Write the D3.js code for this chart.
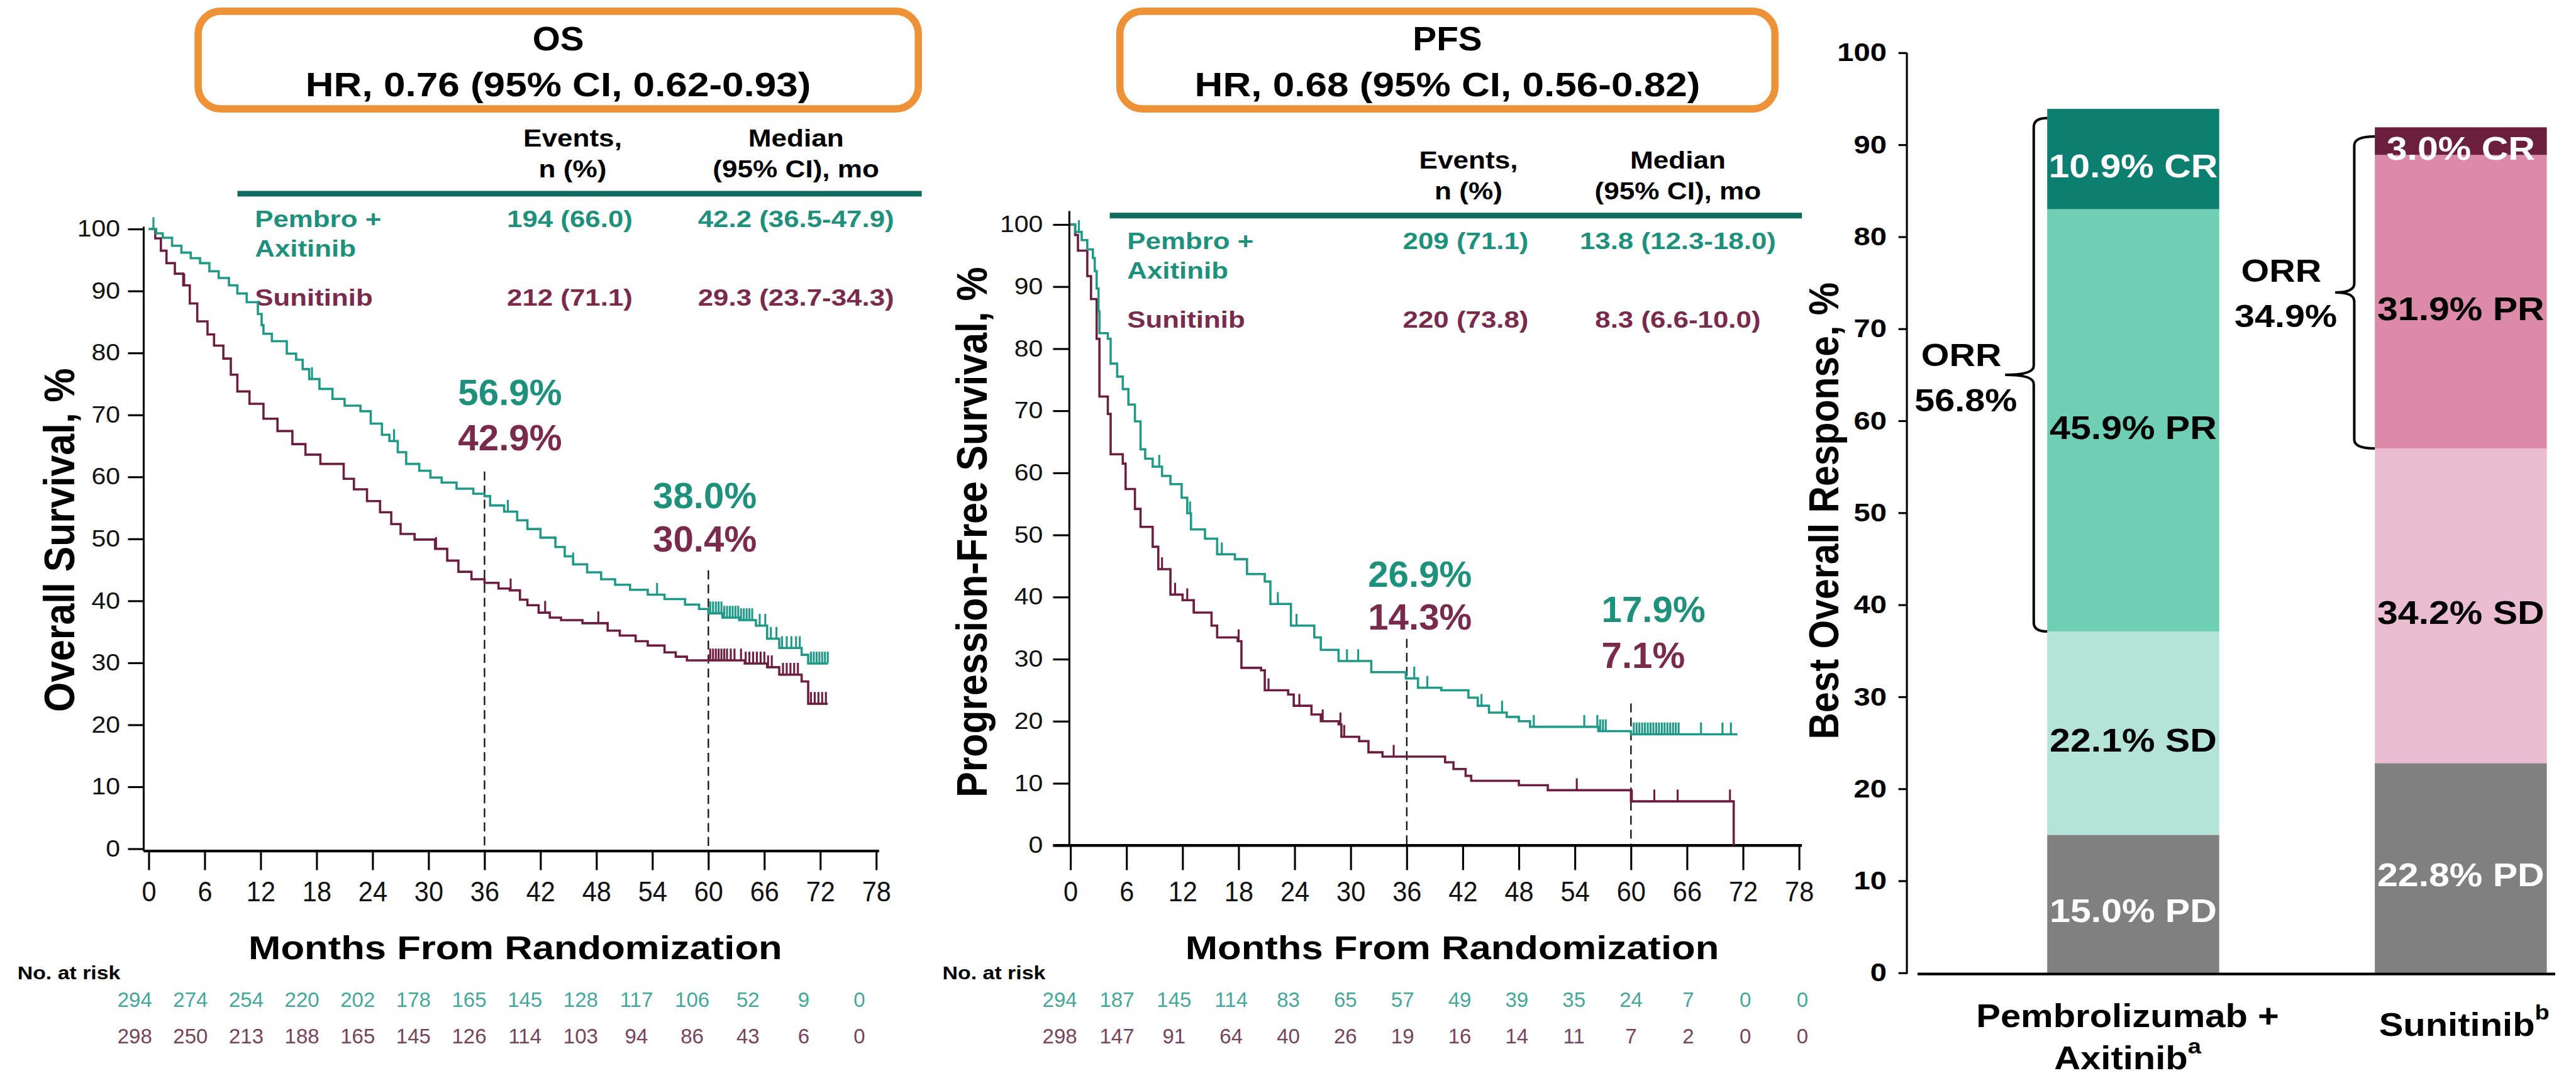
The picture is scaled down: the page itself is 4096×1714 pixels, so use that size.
<!DOCTYPE html>
<html>
<head>
<meta charset="utf-8">
<script src="https://cdn.jsdelivr.net/npm/d3@7"></script>
<style>
  html, body { margin: 0; padding: 0; background: #fff; }
  svg { display: block; }
  text { font-family: "Liberation Sans", Arial, Helvetica, sans-serif; }
</style>
</head>
<body>
<svg id="chart" width="4096" height="1714"></svg>
<script>
// ---------- data ----------
const monthTicks = [0, 6, 12, 18, 24, 30, 36, 42, 48, 54, 60, 66, 72, 78];
const survivalTicks = [0, 10, 20, 30, 40, 50, 60, 70, 80, 90, 100];
const responseTicks = [0, 10, 20, 30, 40, 50, 60, 70, 80, 90, 100];

const armLabels = ["Pembro +\nAxitinib", "Sunitinib"];

// Kaplan-Meier step points: [month, % surviving]
const osPembro = [[0,100],[0.8,99.3],[1.5,98.6],[2.5,97.3],[3.5,96.2],[4.5,95.3],[5.5,94.5],[6.5,93.2],[7.5,92.1],[8.6,90.9],[9.5,89.6],[10.5,88.2],[11.7,86.3],[12.1,84.5],[12.3,83.1],[13.2,81.9],[14.8,79.9],[15.8,78.9],[16.5,77.4],[17.2,75.8],[18.3,74.2],[19.7,72.6],[21.0,71.5],[22.7,70.6],[23.8,68.6],[25.0,66.8],[25.8,65.8],[26.7,64.0],[27.6,62.1],[29.0,61.0],[30.2,59.9],[31.4,59.1],[33.0,58.1],[34.8,57.3],[36.0,56.9],[36.6,55.4],[38.1,54.4],[39.5,53.0],[40.6,51.6],[42.0,50.2],[43.6,48.7],[44.6,47.2],[45.5,45.9],[47.0,44.6],[48.5,43.5],[50.0,42.6],[51.6,41.8],[53.5,41.0],[55.3,40.3],[57.5,39.4],[59.0,38.7],[60.0,38.0],[61.5,37.3],[63.3,36.9],[65.1,36.0],[66.3,33.9],[67.6,32.4],[70.0,31.3],[70.7,29.9],[72.8,29.9]];
const osSunit = [[0,100],[0.7,98.5],[1.3,96.5],[1.9,94.5],[2.8,92.8],[3.7,90.9],[4.4,88.0],[5.2,85.1],[6.3,83.0],[7.0,81.2],[8.0,79.1],[8.8,76.5],[9.5,73.8],[10.8,71.8],[12.3,69.4],[13.8,67.4],[15.4,65.3],[16.8,63.6],[18.4,62.1],[20.9,59.7],[22.0,58.0],[23.4,56.1],[24.8,54.3],[26.0,52.4],[27.0,50.8],[28.5,49.9],[30.7,48.4],[32.0,46.5],[33.2,44.7],[34.6,43.5],[36.0,42.9],[37.5,42.0],[38.7,41.7],[39.8,40.2],[40.6,39.3],[41.8,38.1],[43.0,37.3],[44.2,36.9],[46.5,36.4],[49.2,35.2],[50.5,34.4],[52.2,33.5],[53.5,32.8],[55.3,31.7],[56.5,31.0],[57.7,30.4],[62.0,30.4],[63.9,29.9],[66.3,29.3],[67.6,28.1],[70.0,27.0],[70.7,23.4],[72.8,23.4]];
const osPembroCensor = [0.5,17.5,26.3,38.5,45.5,54.5,60.2,60.5,60.8,61.1,61.4,61.7,62.0,62.3,62.6,62.9,63.2,63.5,63.8,64.1,64.4,64.7,65.5,66.1,66.7,67.3,67.9,68.4,68.9,69.4,69.8,71.0,71.3,71.6,71.9,72.2,72.5,72.8];
const osSunitCensor = [3.8,30.8,38.8,42.5,48.2,60.2,60.5,60.8,61.1,61.4,61.7,62.0,62.4,62.8,63.5,64.0,64.4,64.8,65.2,65.6,66.0,66.4,66.8,68.0,68.4,68.8,69.2,69.6,71.0,71.4,71.8,72.2,72.6];

const pfsPembro = [[0,100],[0.5,98.8],[1.2,97.5],[1.8,96.0],[2.4,94.6],[2.6,92.5],[2.8,89.7],[3.0,86.0],[3.1,82.5],[4.0,81.6],[4.3,77.6],[5.0,75.5],[5.6,73.5],[6.2,71.0],[6.9,68.3],[7.5,63.8],[8.0,62.3],[8.8,61.0],[9.8,59.5],[10.7,58.2],[11.9,56.0],[12.5,53.5],[12.9,50.9],[14.4,49.4],[15.7,46.9],[17.6,46.1],[18.9,43.7],[20.8,42.5],[21.4,38.9],[23.6,35.4],[26.1,33.5],[26.8,31.5],[28.7,29.7],[32.2,27.9],[35.9,26.9],[37.2,25.4],[39.7,25.0],[42.6,23.8],[43.6,22.5],[44.8,21.4],[46.7,20.7],[48.0,20.0],[49.2,19.1],[56.5,18.4],[60.0,17.9],[71.4,17.9]];
const pfsSunit = [[0,100],[0.5,98.3],[0.8,95.8],[1.8,91.7],[2.2,88.0],[2.8,81.6],[3.1,72.3],[4.0,69.5],[4.3,63.0],[5.6,61.5],[5.9,57.4],[6.9,54.2],[7.5,51.3],[8.8,48.1],[9.4,44.5],[10.7,40.4],[12.0,39.5],[13.2,37.5],[15.1,35.4],[15.7,33.5],[17.9,32.9],[18.3,28.6],[20.4,28.2],[20.8,25.0],[23.3,24.3],[23.9,22.5],[25.8,21.1],[26.8,20.0],[28.7,19.5],[29.0,17.5],[30.9,16.8],[31.9,15.0],[33.4,14.3],[40.1,13.4],[41.0,12.3],[42.3,11.2],[42.9,10.4],[48.0,9.7],[51.1,8.9],[60.0,7.1],[71.0,0]];
const pfsPembroCensor = [0.9,9.5,12.8,16.2,22.2,24.2,29.6,30.8,36.8,38.2,44.0,46.2,49.6,55.0,56.4,56.7,57.0,57.3,60.3,60.6,60.9,61.2,61.5,61.8,62.1,62.4,62.7,63.0,63.3,63.6,63.9,64.2,64.5,64.8,65.1,67.5,69.8,70.7];
const pfsSunitCensor = [9.8,11.2,12.5,13.2,18.0,21.2,24.5,27.0,28.9,29.3,34.6,54.2,60.1,62.5,65.0,70.6];

// landmark estimates
const landmarkMonths = [36, 60];
const osPembroLandmark = [56.9, 38.0];
const osSunitLandmark = [42.9, 30.4];
const pfsPembroLandmark = [26.9, 17.9];
const pfsSunitLandmark = [14.3, 7.1];

// summary tables
const osEvents = ["194 (66.0)", "212 (71.1)"];
const osMedian = ["42.2 (36.5-47.9)", "29.3 (23.7-34.3)"];
const pfsEvents = ["209 (71.1)", "220 (73.8)"];
const pfsMedian = ["13.8 (12.3-18.0)", "8.3 (6.6-10.0)"];

// number at risk
const osRiskPembro = [294, 274, 254, 220, 202, 178, 165, 145, 128, 117, 106, 52, 9, 0];
const osRiskSunit  = [298, 250, 213, 188, 165, 145, 126, 114, 103, 94, 86, 43, 6, 0];
const pfsRiskPembro = [294, 187, 145, 114, 83, 65, 57, 49, 39, 35, 24, 7, 0, 0];
const pfsRiskSunit  = [298, 147, 91, 64, 40, 26, 19, 16, 14, 11, 7, 2, 0, 0];

// best overall response (stacked, bottom to top)
const responseTypes = ["PD", "SD", "PR", "CR"];
const responseCategories = ["Pembrolizumab +", "Sunitinib"];
const pembroResponse = [15.0, 22.1, 45.9, 10.9];
const sunitResponse = [22.8, 34.2, 31.9, 3.0];
const orrValues = [56.8, 34.9];

// ---------- styling ----------
const TEAL = "#1d917c", MAROON = "#7a2b4c";
const TEAL_LINE = "#1f9a88", MAROON_LINE = "#6d1e40";
const ORANGE = "#ee9237", RULE = "#0f6b5e";
const RISK_TEAL = "#45a89a", RISK_MAROON = "#76445b";
const pembroColors = { PD: "#808080", SD: "#b3e4d6", PR: "#6fcfb4", CR: "#0c7f71" };
const sunitColors  = { PD: "#808080", SD: "#eabdd0", PR: "#dc8aa8", CR: "#6b1f3b" };
const labelFill = { PD: "#fff", SD: "#000", PR: "#000", CR: "#fff" };

const S = 4096 / 4589;
const root = d3.select("#chart").append("g").attr("transform", `scale(${S})`);

function label(parent, x, y, str, o = {}) {
  const t = parent.append("text")
    .attr("transform", `translate(${x},${y}) scale(${o.sx || 1},1)` + (o.rotate ? ` rotate(${o.rotate})` : ""))
    .attr("text-anchor", o.anchor || "middle")
    .attr("font-size", o.size || 40)
    .attr("font-weight", o.bold === false ? 400 : 700)
    .attr("fill", o.fill || "#000")
    .text(str);
  if (o.dy) t.attr("dy", o.dy);
  return t;
}

function stepAt(pts, m) {
  let v = pts[0][1];
  for (const p of pts) { if (p[0] <= m) v = p[1]; else break; }
  return v;
}

function drawKM(p) {
  const g = root.append("g");
  const x = d3.scaleLinear().domain([0, 78]).range(p.xRange);
  const y = d3.scaleLinear().domain([0, 100]).range(p.yRange);

  // header box
  g.append("rect").attr("x", p.box[0]).attr("y", 20).attr("width", p.box[1] - p.box[0]).attr("height", 174)
    .attr("rx", 40).attr("ry", 40).attr("fill", "#fff").attr("stroke", ORANGE).attr("stroke-width", 13);
  const bc = (p.box[0] + p.box[1]) / 2;
  label(g, bc, 90, p.title, { size: 60, sx: 1.06 });
  label(g, bc, 171, p.hr, { size: 61, sx: 1.14 });

  // summary table
  const th = p.tableTop;
  label(g, p.colEvents, th, "Events,", { size: 43, sx: 1.15 });
  label(g, p.colEvents, th + 55, "n (%)", { size: 43, sx: 1.15 });
  label(g, p.colMedian, th, "Median", { size: 43, sx: 1.15 });
  label(g, p.colMedian, th + 55, "(95% CI), mo", { size: 43, sx: 1.15 });
  g.append("line").attr("x1", p.rule[0]).attr("x2", p.rule[1]).attr("y1", th + 84).attr("y2", th + 84)
    .attr("stroke", RULE).attr("stroke-width", 10);
  const rowY = [th + 144, th + 284];
  const rowFill = [TEAL, MAROON];
  armLabels.forEach((a, i) => {
    a.split("\n").forEach((ln, j) => label(g, p.colArm, rowY[i] + j * 52, ln, { size: 42, sx: 1.17, anchor: "start", fill: rowFill[i] }));
    label(g, p.colEvents - 5, rowY[i], p.events[i], { size: 42, sx: 1.17, fill: rowFill[i] });
    label(g, p.colMedian, rowY[i], p.median[i], { size: 42, sx: 1.17, fill: rowFill[i] });
  });

  // axes
  g.append("line").attr("x1", p.yAxisX).attr("x2", p.yAxisX).attr("y1", p.yAxisTop).attr("y2", p.axisY)
    .attr("stroke", "#000").attr("stroke-width", 3.5);
  g.append("line").attr("x1", p.axisX[0]).attr("x2", p.axisX[1]).attr("y1", p.axisY).attr("y2", p.axisY)
    .attr("stroke", "#000").attr("stroke-width", 5);

  const yAx = g.append("g").attr("transform", `translate(${p.yAxisX},0)`)
    .call(d3.axisLeft(y).tickValues(survivalTicks).tickSize(p.yTick).tickPadding(p.yPad));
  yAx.select(".domain").remove();
  yAx.selectAll(".tick line").attr("stroke", "#000").attr("stroke-width", 3.5);
  yAx.selectAll(".tick text").attr("font-size", 41).attr("fill", "#111")
    .attr("font-family", '"Liberation Sans", Arial, sans-serif')
    .attr("x", -(p.yTick + p.yPad) / 1.12).attr("transform", "scale(1.12,1)");

  const xAx = g.append("g").attr("transform", `translate(0,${p.axisY})`)
    .call(d3.axisBottom(x).tickValues(monthTicks).tickSize(p.xTick).tickPadding(p.xLabel - p.xTick - 35.5));
  xAx.select(".domain").remove();
  xAx.selectAll(".tick line").attr("stroke", "#000").attr("stroke-width", 3.5);
  xAx.selectAll(".tick text").attr("font-size", 50).attr("fill", "#111")
    .attr("font-family", '"Liberation Sans", Arial, sans-serif')
    .attr("transform", "scale(0.93,1)");

  // axis titles
  label(g, p.yTitle[0], p.yTitle[1], p.yTitleText, { size: 68, sx: 1.13, rotate: -90, dy: "0.36em" });
  label(g, p.xTitleX, 1708, "Months From Randomization", { size: 58, sx: 1.19 });

  // landmark reference lines
  landmarkMonths.forEach((m, i) => {
    g.append("line").attr("x1", x(m)).attr("x2", x(m)).attr("y1", p.dashTop[i]).attr("y2", p.axisY)
      .attr("stroke", "#111").attr("stroke-width", 2.6).attr("stroke-dasharray", "16,9");
    label(g, p.lmX[i], p.lmY[i][0], d3.format(".1f")(p.lmPembro[i]) + "%", { size: 64, sx: 1.02, anchor: "start", fill: TEAL });
    label(g, p.lmX[i], p.lmY[i][1], d3.format(".1f")(p.lmSunit[i]) + "%", { size: 64, sx: 1.02, anchor: "start", fill: MAROON });
  });

  // survival curves with censoring ticks
  const line = d3.line().x(d => x(d[0])).y(d => y(d[1])).curve(d3.curveStepAfter);
  [[p.sunit, MAROON_LINE, p.sunitCensor], [p.pembro, TEAL_LINE, p.pembroCensor]].forEach(([pts, col, cens]) => {
    g.append("path").attr("d", line(pts)).attr("fill", "none").attr("stroke", col).attr("stroke-width", 4);
    g.append("g").selectAll("line").data(cens).join("line")
      .attr("x1", d => x(d)).attr("x2", d => x(d))
      .attr("y1", d => y(stepAt(pts, d))).attr("y2", d => y(stepAt(pts, d)) - 21)
      .attr("stroke", col).attr("stroke-width", 3.5);
  });

  // number at risk
  const rx = d3.scaleLinear().domain([0, 78]).range(p.riskRange);
  label(g, p.riskLabelX, 1744, "No. at risk", { size: 33, sx: 1.15, anchor: "start" });
  [[p.riskPembro, RISK_TEAL, 1794], [p.riskSunit, RISK_MAROON, 1859]].forEach(([vals, col, yy]) => {
    vals.forEach((v, i) => label(g, rx(monthTicks[i]), yy, String(v), { size: 37, bold: false, fill: col }));
  });
}

drawKM({
  title: "OS", hr: "HR, 0.76 (95% CI, 0.62-0.93)", box: [353, 1636],
  tableTop: 261, colArm: 454, colEvents: 1020, colMedian: 1418, rule: [423, 1642],
  events: osEvents, median: osMedian,
  xRange: [265, 1561], yRange: [1512, 408], yAxisX: 256, yAxisTop: 404, axisY: 1516, axisX: [256, 1566],
  yTick: 28, yPad: 14, xTick: 34, xLabel: 89,
  yTitle: [105, 962], yTitleText: "Overall Survival, %", xTitleX: 918,
  dashTop: [840, 1016], lmX: [816, 1163], lmY: [[721, 802], [905, 983]],
  lmPembro: osPembroLandmark, lmSunit: osSunitLandmark,
  pembro: osPembro, sunit: osSunit, pembroCensor: osPembroCensor, sunitCensor: osSunitCensor,
  riskRange: [240, 1531], riskLabelX: 31, riskPembro: osRiskPembro, riskSunit: osRiskSunit
});

drawKM({
  title: "PFS", hr: "HR, 0.68 (95% CI, 0.56-0.82)", box: [1995, 3162],
  tableTop: 300, colArm: 2008, colEvents: 2616, colMedian: 2989, rule: [1977, 3210],
  events: pfsEvents, median: pfsMedian,
  xRange: [1907, 3205], yRange: [1506, 400], yAxisX: 1905, yAxisTop: 376, axisY: 1506, axisX: [1876, 3210],
  yTick: 29, yPad: 18, xTick: 44, xLabel: 99,
  yTitle: [1730, 948], yTitleText: "Progression-Free Survival, %", xTitleX: 2587,
  dashTop: [1138, 1253], lmX: [2437, 2853], lmY: [[1045, 1122], [1108, 1190]],
  lmPembro: pfsPembroLandmark, lmSunit: pfsSunitLandmark,
  pembro: pfsPembro, sunit: pfsSunit, pembroCensor: pfsPembroCensor, sunitCensor: pfsSunitCensor,
  riskRange: [1888, 3211], riskLabelX: 1679, riskPembro: pfsRiskPembro, riskSunit: pfsRiskSunit
});

// ---------- best overall response ----------
(function drawResponse() {
  const g = root.append("g");
  const y = d3.scaleLinear().domain([0, 100]).range([1733, 94]);
  const x = d3.scaleBand().domain(responseCategories).range([3647, 4537]).paddingInner(0.475).paddingOuter(0);
  const series = [pembroResponse, sunitResponse];
  const palettes = [pembroColors, sunitColors];

  // axis
  const yAx = g.append("g").attr("transform", "translate(3397,0)")
    .call(d3.axisLeft(y).tickValues(responseTicks).tickSize(15).tickPadding(21));
  yAx.select(".domain").remove();
  yAx.selectAll(".tick line").attr("stroke", "#000").attr("stroke-width", 3.5);
  yAx.selectAll(".tick text").attr("font-size", 46).attr("font-weight", 700).attr("fill", "#000")
    .attr("font-family", '"Liberation Sans", Arial, sans-serif')
    .attr("x", -36 / 1.15).attr("transform", "scale(1.15,1)");
  g.append("line").attr("x1", 3397).attr("x2", 3397).attr("y1", y(100)).attr("y2", y(0) + 2)
    .attr("stroke", "#000").attr("stroke-width", 3.5);
  label(g, 3248, 910, "Best Overall Response, %", { size: 66, sx: 1.12, rotate: -90, dy: "0.36em" });

  // stacked bars
  responseCategories.forEach((c, ci) => {
    let base = 0;
    series[ci].forEach((v, ri) => {
      const type = responseTypes[ri];
      const y0 = y(base), y1 = y(base + v);
      g.append("rect").attr("x", x(c)).attr("width", x.bandwidth()).attr("y", y1).attr("height", y0 - y1)
        .attr("fill", palettes[ci][type]);
      const cy = (y0 + y1) / 2 + 12;
      label(g, x(c) + x.bandwidth() / 2, cy, d3.format(".1f")(v) + "% " + type,
        { size: 58, sx: 1.14, fill: labelFill[type], dy: "0.36em" });
      base += v;
    });
  });

  g.append("line").attr("x1", 3416).attr("x2", 4552).attr("y1", 1735).attr("y2", 1735)
    .attr("stroke", "#000").attr("stroke-width", 5);

  // ORR braces
  const braces = [
    { bx: 3623, lo: pembroResponse[0] + pembroResponse[1], hi: 92.9, nib: 3572, txt: [3494, 652, 733] },
    { bx: 4194, lo: sunitResponse[0] + sunitResponse[1], hi: 90.9, nib: 4160, txt: [4064, 502, 583] }
  ];
  braces.forEach((b, i) => {
    const top = y(b.hi), bot = y(b.lo), mid = (top + bot) / 2, r = 16, end = x(responseCategories[i]);
    const d = `M${end},${top} Q${b.bx},${top} ${b.bx},${top + r} L${b.bx},${mid - r}
      Q${b.bx},${mid} ${b.nib},${mid} Q${b.bx},${mid} ${b.bx},${mid + r} L${b.bx},${bot - r}
      Q${b.bx},${bot} ${end},${bot}`;
    g.append("path").attr("d", d).attr("fill", "none").attr("stroke", "#000").attr("stroke-width", 4.5);
    label(g, b.txt[0], b.txt[1], "ORR", { size: 56, sx: 1.15 });
    label(g, b.txt[0] + 8, b.txt[2], d3.format(".1f")(orrValues[i]) + "%", { size: 56, sx: 1.15 });
  });

  // category labels
  const c1 = x(responseCategories[0]) + x.bandwidth() / 2 - 10;
  label(g, c1, 1830, "Pembrolizumab +", { size: 58, sx: 1.12 });
  const ax = label(g, c1, 1905, "Axitinib", { size: 58, sx: 1.12 });
  ax.append("tspan").attr("font-size", 38).attr("dy", "-0.75em").text("a");
  const sn = label(g, x(responseCategories[1]) + x.bandwidth() / 2 + 6, 1845, "Sunitinib", { size: 58, sx: 1.12 });
  sn.append("tspan").attr("font-size", 38).attr("dy", "-0.75em").text("b");
})();
</script>
</body>
</html>
